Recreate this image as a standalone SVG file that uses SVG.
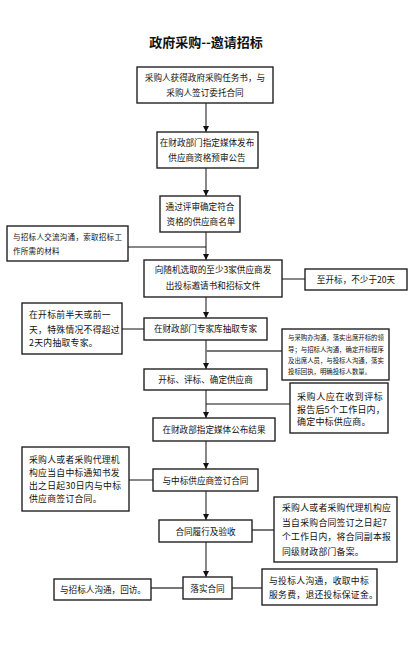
<svg xmlns="http://www.w3.org/2000/svg" width="416" height="672" viewBox="0 0 416 672">
<defs>
<style>
.box{fill:#fff;stroke:#222;stroke-width:1.4}
.t{font-family:"Noto Sans CJK SC","Liberation Sans",sans-serif;fill:#111}
.c{text-anchor:middle;font-size:8.6px}
.s9{font-size:8.8px;letter-spacing:0.3px}
.ln{stroke:#111;stroke-width:1;fill:none}
.gl{stroke:#777;stroke-width:2;fill:none}
</style>
<marker id="ah" viewBox="0 0 10 10" refX="10" refY="5" markerWidth="6" markerHeight="6" orient="auto" markerUnits="userSpaceOnUse">
<path d="M0,0 L10,5 L0,10 z" fill="#111"/>
</marker>
</defs>
<rect width="416" height="672" fill="#fff"/>
<text x="206" y="47" class="t" font-size="13" font-weight="bold" text-anchor="middle">政府采购--邀请招标</text>

<g id="connectors">
<line class="ln" x1="206" y1="103" x2="206" y2="132" marker-end="url(#ah)"/>
<line class="ln" x1="206" y1="168" x2="206" y2="196" marker-end="url(#ah)"/>
<line class="ln" x1="206" y1="232" x2="206" y2="260" marker-end="url(#ah)"/>
<line class="ln" x1="206" y1="297" x2="206" y2="318" marker-end="url(#ah)"/>
<line class="ln" x1="206" y1="340" x2="206" y2="369" marker-end="url(#ah)"/>
<line class="ln" x1="206" y1="390" x2="206" y2="418" marker-end="url(#ah)"/>
<line class="ln" x1="206" y1="441" x2="206" y2="469" marker-end="url(#ah)"/>
<line class="ln" x1="206" y1="491" x2="206" y2="520" marker-end="url(#ah)"/>
<line class="ln" x1="206" y1="542" x2="206" y2="577" marker-end="url(#ah)"/>
<line class="ln" x1="128" y1="247" x2="206" y2="247"/>
<line class="ln" x1="282" y1="279" x2="305" y2="279"/>
<line class="ln" x1="122" y1="329" x2="144" y2="329"/>
<line class="gl" x1="206" y1="351" x2="282" y2="351"/>
<line class="ln" x1="206" y1="404" x2="290" y2="404"/>
<line class="ln" x1="129" y1="480" x2="153" y2="480"/>
<line class="gl" x1="252" y1="530" x2="274" y2="530"/>
<line class="gl" x1="151" y1="588" x2="183" y2="588"/>
<line class="gl" x1="232" y1="588" x2="262" y2="588"/>
</g>

<g id="n1"><rect class="box" x="137" y="67" width="136" height="36"/>
<text class="t c" x="205" y="81">采购人获得政府采购任务书，与</text>
<text class="t c" x="205" y="96">采购人签订委托合同</text></g>

<g id="n2"><rect class="box" x="157" y="132" width="101" height="36"/>
<text class="t c" x="207" y="145.5">在财政部门指定媒体发布</text>
<text class="t c" x="207" y="161">供应商资格预审公告</text></g>

<g id="n3"><rect class="box" x="160" y="196" width="80" height="36"/>
<text class="t c" x="200" y="210">通过评审确定符合</text>
<text class="t c" x="201" y="225">资格的供应商名单</text></g>

<g id="l1"><rect class="box" x="7" y="226" width="121" height="35"/>
<text class="t" x="13" y="240" font-size="7.5" letter-spacing="0.3">与招标人交流沟通，索取招标工</text>
<text class="t" x="13" y="254" font-size="7.5" letter-spacing="0.3">作所需的材料</text></g>

<g id="n4"><rect class="box" x="144" y="260" width="138" height="37"/>
<text class="t c" x="213" y="273">向随机选取的至少3家供应商发</text>
<text class="t c" x="213" y="289">出投标邀请书和招标文件</text></g>

<g id="r1"><rect class="box" x="305" y="269" width="102" height="21"/>
<text class="t c" x="356" y="282.5">至开标，不少于20天</text></g>

<g id="n5"><rect class="box" x="144" y="318" width="123" height="22"/>
<text class="t c" x="205.5" y="332">在财政部门专家库抽取专家</text></g>

<g id="l2"><rect class="box" x="22" y="303" width="100" height="51"/>
<text class="t s9" x="29" y="318">在开标前半天或前一</text>
<text class="t s9" x="29" y="333">天，特殊情况不得超过</text>
<text class="t s9" x="29" y="346">2天内抽取专家。</text></g>

<g id="r2"><rect class="box" x="282" y="329" width="107" height="51"/>
<text class="t" x="288" y="339.5" font-size="6.4">与采购办沟通，落实出席开标的领</text>
<text class="t" x="288" y="351.5" font-size="6.4">导；与招标人沟通，确定开标程序</text>
<text class="t" x="288" y="362.5" font-size="6.4">及出席人员，与投标人沟通，落实</text>
<text class="t" x="288" y="373.5" font-size="6.4">投标回执，明确投标人数量。</text></g>

<g id="n6"><rect class="box" x="144" y="369" width="123" height="21"/>
<text class="t c" x="205.5" y="383">开标、评标、确定供应商</text></g>

<g id="r3"><rect class="box" x="290" y="383" width="98" height="50"/>
<text class="t" x="297" y="400" font-size="9" letter-spacing="0.6">采购人应在收到评标</text>
<text class="t" x="297" y="412.5" font-size="9" letter-spacing="0.2">报告后5个工作日内，</text>
<text class="t" x="297" y="425" font-size="9" letter-spacing="0.2">确定中标供应商。</text></g>

<g id="n7"><rect class="box" x="153" y="418" width="122" height="23"/>
<text class="t c" x="214" y="433">在财政部指定媒体公布结果</text></g>

<g id="l3"><rect class="box" x="22" y="447" width="107" height="64"/>
<text class="t s9" x="29" y="463">采购人或者采购代理机</text>
<text class="t s9" x="29" y="475.5">构应当自中标通知书发</text>
<text class="t s9" x="29" y="489">出之日起30日内与中标</text>
<text class="t s9" x="29" y="502">供应商签订合同。</text></g>

<g id="n8"><rect class="box" x="153" y="469" width="105" height="22"/>
<text class="t c" x="205.5" y="484">与中标供应商签订合同</text></g>

<g id="r4"><rect class="box" x="274" y="497" width="123" height="65"/>
<text class="t s9" x="282" y="511">采购人或者采购代理机构应</text>
<text class="t s9" x="282" y="525.5">当自采购合同签订之日起7</text>
<text class="t s9" x="282" y="540">个工作日内，将合同副本报</text>
<text class="t s9" x="282" y="554.5">同级财政部门备案。</text></g>

<g id="n9"><rect class="box" x="159" y="520" width="93" height="22"/>
<text class="t c" x="205.5" y="534.5">合同履行及验收</text></g>

<g id="n10"><rect class="box" x="183" y="577" width="49" height="22"/>
<text class="t c" x="207.5" y="591.5">落实合同</text></g>

<g id="l4"><rect class="box" x="54" y="579" width="97" height="21"/>
<text class="t c" x="103" y="592.5">与招标人沟通，回访。</text></g>

<g id="r5"><rect class="box" x="262" y="569" width="115" height="36"/>
<text class="t s9" x="269" y="584">与投标人沟通，收取中标</text>
<text class="t s9" x="269" y="598">服务费，退还投标保证金。</text></g>
</svg>
